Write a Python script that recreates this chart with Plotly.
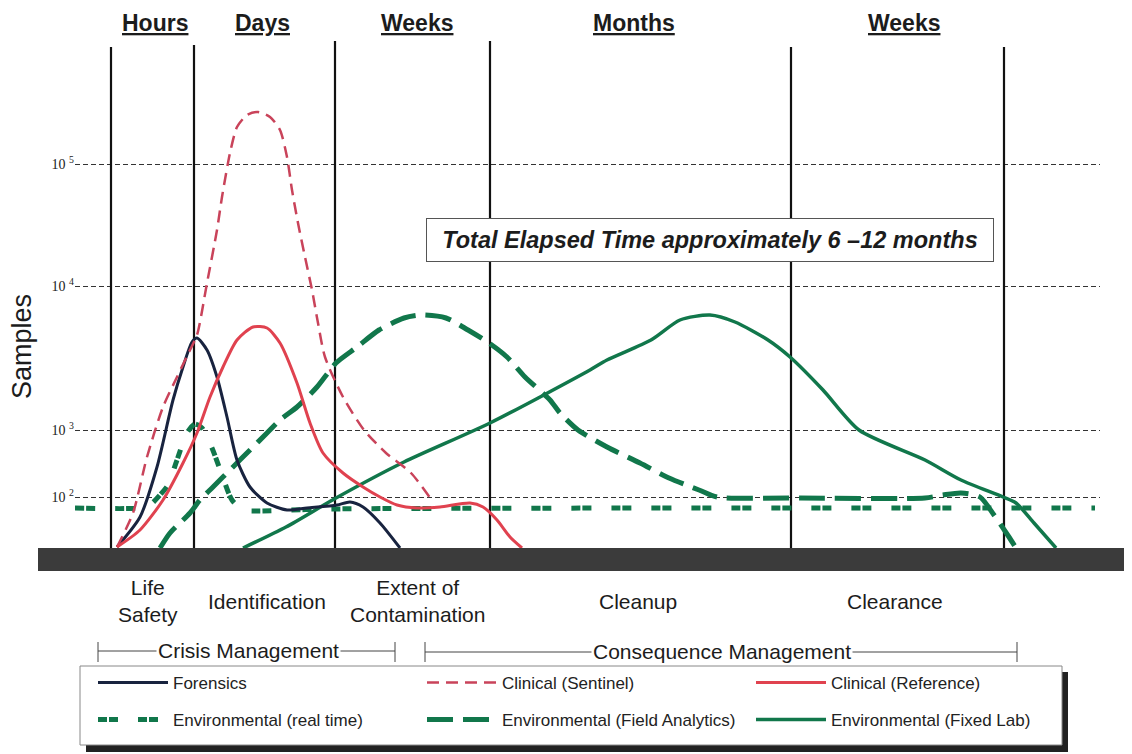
import plotly.graph_objects as go

# ---------------- figure geometry (screen pixels) ----------------
OFF = 8                                 # page body margin of the html page
W, H = 1124, 746
PX0, PX1 = 75, 1100                     # plot area on screen (x)
PY0, PY1 = 40, 548                      # plot area on screen (y); 548 = baseline


def xp(px):
    return (px - PX0) / (PX1 - PX0)


def yp(py):
    return (PY1 - py) / (PY1 - PY0)


# ---------------- data (time position, relative sample level) ----------------
phase_bounds = [111, 194, 335, 490, 791, 1004]
phase_tops = [501, 503, 507, 507, 501, 501]

level_ticks = [51, 118, 262, 384]
level_labels = ["10 <sup>2</sup>", "10 <sup>3</sup>", "10 <sup>4</sup>", "10 <sup>5</sup>"]

forensics_x = [117, 140, 157, 173, 183, 192, 197, 207, 217, 227, 237, 250, 267, 287, 307, 337, 350, 363, 380, 400]
forensics_y = [1, 31, 81, 148, 181, 206, 210, 198, 171, 131, 88, 61, 45, 38, 40, 43, 46, 41, 25, 0]

sentinel_x = [117, 133, 147, 163, 177, 190, 197, 207, 217, 222, 230, 237, 247, 258, 270, 280, 287, 292,
              298, 305, 312, 318, 325, 343, 364, 386, 411, 433]
sentinel_y = [1, 35, 91, 141, 171, 198, 213, 265, 318, 351, 395, 421, 433, 436, 431, 418, 391, 358,
              325, 291, 258, 225, 191, 151, 118, 95, 75, 46]

reference_x = [117, 140, 163, 183, 197, 210, 223, 237, 253, 267, 280, 297, 310, 323, 343, 363, 380, 397,
               417, 440, 470, 483, 497, 510, 522]
reference_y = [1, 18, 48, 85, 115, 151, 181, 208, 221, 220, 205, 165, 125, 95, 75, 61, 51, 43,
               40, 41, 45, 41, 28, 11, 0]

realtime_x = [75, 140, 150, 160, 168, 177, 187, 195, 202, 212, 222, 232, 243, 257, 330, 1095]
realtime_y = [40, 40, 43, 53, 63, 88, 115, 124, 120, 100, 73, 48, 38, 37, 39, 40]

field_x = [160, 170, 190, 200, 213, 233, 250, 267, 280, 297, 317, 336, 357, 379, 404, 421, 446, 468, 489,
           507, 525, 550, 560, 578, 607, 640, 669, 699, 717, 800, 925, 943, 961, 980, 994, 1009, 1016]
field_y = [0, 15, 35, 48, 61, 81, 98, 115, 128, 141, 161, 185, 201, 218, 230, 233, 230, 218, 205,
           191, 171, 148, 135, 118, 101, 85, 70, 58, 51, 50, 50, 53, 55, 51, 33, 11, 0]

fixed_x = [243, 286, 336, 404, 490, 590, 607, 651, 680, 710, 735, 768, 790, 823, 859, 925, 961, 1003,
           1016, 1034, 1056]
fixed_y = [0, 21, 50, 86, 125, 178, 188, 208, 228, 233, 226, 208, 191, 158, 118, 88, 68, 51, 45, 25, 0]

period_labels = ["Hours", "Days", "Weeks", "Months", "Weeks"]
period_pos = [155, 262, 417, 634, 904]

phase_labels = ["Life<br>Safety", "Identification", "Extent of<br>Contamination", "Cleanup", "Clearance"]
phase_pos = [148, 267, 417, 638, 895]

# ---------------- styles ----------------
SANS = "Liberation Sans, Arial, sans-serif"
NAVY = "#18233f"
RED_D = "#c9435a"
RED = "#e0424f"
GREEN = "#11774b"
INK = "#1c1c1c"

fig = go.Figure()

# phase boundary lines
vx, vy = [], []
for bx, top in zip(phase_bounds, phase_tops):
    vx += [bx, bx, None]
    vy += [0, top, None]
fig.add_trace(go.Scatter(x=vx, y=vy, mode="lines", line=dict(color="#111", width=2.2),
                         showlegend=False, hoverinfo="skip"))

sm = 0.7
fig.add_trace(go.Scatter(x=realtime_x, y=realtime_y, mode="lines", name="Environmental (real time)",
                         line=dict(color=GREEN, width=5, dash="9px,2px,9px,20px", shape="spline", smoothing=sm),
                         legend="legend2"))
fig.add_trace(go.Scatter(x=field_x, y=field_y, mode="lines", name="Environmental (Field Analytics)",
                         line=dict(color=GREEN, width=5, dash="26px,10px", shape="spline", smoothing=sm),
                         legend="legend2"))
fig.add_trace(go.Scatter(x=fixed_x, y=fixed_y, mode="lines", name="Environmental (Fixed Lab)",
                         line=dict(color=GREEN, width=3.5, shape="spline", smoothing=sm),
                         legend="legend2"))
fig.add_trace(go.Scatter(x=forensics_x, y=forensics_y, mode="lines", name="Forensics",
                         line=dict(color=NAVY, width=3, shape="spline", smoothing=sm),
                         legend="legend"))
fig.add_trace(go.Scatter(x=sentinel_x, y=sentinel_y, mode="lines", name="Clinical (Sentinel)",
                         line=dict(color=RED_D, width=2.5, dash="12px,7px", shape="spline", smoothing=sm),
                         legend="legend"))
fig.add_trace(go.Scatter(x=reference_x, y=reference_y, mode="lines", name="Clinical (Reference)",
                         line=dict(color=RED, width=3, shape="spline", smoothing=sm),
                         legend="legend"))

shapes = []
# grey ground bar
shapes.append(dict(type="rect", xref="paper", yref="paper", x0=xp(38), x1=xp(1140), y0=yp(548), y1=yp(571),
                   fillcolor="#3b3b3b", line=dict(width=0), layer="above"))
# bracket lines
for x0, x1, yy in [(98, 395, 651), (425, 1017, 652)]:
    shapes.append(dict(type="line", xref="paper", yref="paper", x0=xp(x0), x1=xp(x1), y0=yp(yy), y1=yp(yy),
                       line=dict(color="#444", width=1)))
    for xx in (x0, x1):
        shapes.append(dict(type="line", xref="paper", yref="paper", x0=xp(xx), x1=xp(xx),
                           y0=yp(642), y1=yp(662), line=dict(color="#444", width=1)))
# legend box with shadow
shapes.append(dict(type="rect", xref="paper", yref="paper", x0=xp(86), x1=xp(1068), y0=yp(672), y1=yp(752),
                   fillcolor="#222", line=dict(width=0)))
shapes.append(dict(type="rect", xref="paper", yref="paper", x0=xp(80), x1=xp(1062), y0=yp(666), y1=yp(745),
                   fillcolor="white", line=dict(color="#888", width=1)))


def note(text, x, y, size, **kw):
    d = dict(text=text, x=xp(x), y=yp(y), xref="paper", yref="paper", showarrow=False,
             xanchor="center", yanchor="middle", font=dict(family=SANS, size=size, color=INK))
    d.update(kw)
    return d


ann = []
for t, x in zip(period_labels, period_pos):
    ann.append(note("<b><u>%s</u></b>" % t, x, 23, 23))
for t, x in zip(phase_labels, phase_pos):
    ann.append(note(t, x, 601, 21))
ann.append(note("Crisis Management", 248, 650, 21, bgcolor="white", borderpad=1))
ann.append(note("Consequence Management", 722, 651, 21, bgcolor="white", borderpad=1))
ann.append(note("<b><i>Total Elapsed Time approximately 6 \u201312 months</i></b>", 710, 240, 23.5,
                bgcolor="white", bordercolor="#555", borderwidth=1, borderpad=3, width=560, height=36))
ann.append(note("Samples", 22, 347, 27, textangle=-90))

leg_common = dict(orientation="h", xref="paper", yref="paper", xanchor="left", yanchor="middle",
                  entrywidth=244, entrywidthmode="pixels", itemwidth=70,
                  bgcolor="rgba(0,0,0,0)", borderwidth=0, traceorder="normal",
                  font=dict(family=SANS, size=17, color="#222"))

fig.update_layout(
    width=W, height=H,
    margin=dict(l=PX0 - OFF, r=W - (PX1 - OFF), t=PY0 - OFF, b=H - (PY1 - OFF), autoexpand=False),
    paper_bgcolor="white", plot_bgcolor="white",
    showlegend=True,
    legend=dict(x=xp(93), y=yp(683), **leg_common),
    legend2=dict(x=xp(93), y=yp(720), **leg_common),
    xaxis=dict(range=[PX0, PX1], visible=False, fixedrange=True),
    yaxis=dict(range=[0, PY1 - PY0], tickvals=level_ticks, ticktext=level_labels,
               showgrid=True, gridcolor="#333", gridwidth=1, griddash="5px,3px",
               zeroline=False, showline=False, ticks="", ticklen=0,
               tickfont=dict(family="Liberation Serif, Times New Roman, serif", size=14, color="#222"),
               fixedrange=True),
    shapes=shapes,
    annotations=ann,
)

fig.write_html("out.html")
